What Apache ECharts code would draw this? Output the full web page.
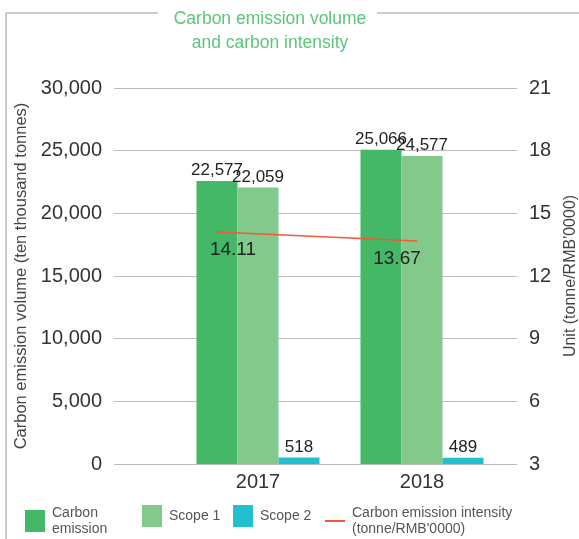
<!DOCTYPE html>
<html>
<head>
<meta charset="utf-8">
<script src="https://cdn.jsdelivr.net/npm/echarts@6/dist/echarts.min.js"></script>
<style>
  html, body { margin: 0; padding: 0; background: #fff; }
  #chart { width: 579px; height: 539px; }
</style>
</head>
<body>
<div id="chart"></div>
<script>
const years = ['2017', '2018']
const carbonEmission = [22577, 25066]
const scope1 = [22059, 24577]
const scope2 = [518, 489]
const intensity = [14.11, 13.67]
const leftTicks = [0, 30000, 5000]
const rightTicks = [3, 21, 3]

const font = '"Liberation Sans", Arial, sans-serif'
const chart = echarts.init(document.getElementById('chart'))

const barLabel = {
  show: true,
  position: 'top',
  distance: 2,
  fontSize: 17,
  color: '#222',
  fontFamily: font,
  formatter: p => p.value.toLocaleString('en-US')
}
// nudges so the intensity labels sit where the original puts them
const lineLabelShift = [[16, 0], [-20, 0]]

const optionData = {
  title: {
    text: 'Carbon emission volume\nand carbon intensity',
    left: 265,
    textAlign: 'center',
    top: 2,
    textStyle: { color: '#5dc47c', fontSize: 17.5, fontWeight: 'normal', fontFamily: font, lineHeight: 24 }
  },
  graphic: [
    { type: 'line', shape: { x1: 6, y1: 13, x2: 158, y2: 13 }, style: { stroke: '#999', lineWidth: 1 } },
    { type: 'line', shape: { x1: 377, y1: 13, x2: 579, y2: 13 }, style: { stroke: '#999', lineWidth: 1 } },
    { type: 'line', shape: { x1: 6, y1: 13, x2: 6, y2: 539 }, style: { stroke: '#999', lineWidth: 1 } }
  ],
  legend: [
    { data: ['Carbon\nemission'], left: 20, top: 500 },
    { data: ['Scope 1'], left: 137, top: 500 },
    { data: ['Scope 2'], left: 228, top: 500 },
    { data: ['Carbon emission intensity\n(tonne/RMB\'0000)'], left: 320, top: 500, itemHeight: 2 }
  ].map(l => Object.assign({
    icon: 'rect',
    itemWidth: 20,
    itemHeight: 22,
    itemGap: 10,
    textStyle: { fontSize: 14, color: '#555', fontFamily: font, lineHeight: 16, padding: [0, 0, 0, 2] }
  }, l)),
  grid: [
    { left: 117, right: 62, top: 88, bottom: 75, outerBoundsMode: 'none' },
    { left: 176, right: 75, top: 88, bottom: 75, outerBoundsMode: 'none' }
  ],
  xAxis: [
    { type: 'category', gridIndex: 0, data: years, show: false },
    {
      type: 'category', gridIndex: 1, data: years,
      axisLine: { show: false }, axisTick: { show: false },
      axisLabel: { fontSize: 20, color: '#333', fontFamily: font, margin: 8 }
    }
  ],
  yAxis: [
    {
      type: 'value', gridIndex: 0, min: leftTicks[0], max: leftTicks[1], interval: leftTicks[2],
      name: 'Carbon emission volume (ten thousand tonnes)',
      nameLocation: 'middle', nameGap: 80,
      nameTextStyle: { fontSize: 16.5, color: '#444', fontFamily: font },
      axisLine: { show: false },
      axisTick: { show: true, length: 3, lineStyle: { color: '#bbb' } },
      axisLabel: { fontSize: 20, color: '#333', fontFamily: font, margin: 15, formatter: v => v.toLocaleString('en-US') },
      splitLine: { lineStyle: { color: '#bbb', width: 1 } }
    },
    {
      type: 'value', gridIndex: 0, position: 'right', min: rightTicks[0], max: rightTicks[1], interval: rightTicks[2],
      name: 'Unit (tonne/RMB\'0000)',
      nameLocation: 'middle', nameGap: 46, nameRotate: 90,
      nameTextStyle: { fontSize: 16, color: '#444', fontFamily: font },
      axisLine: { show: false }, axisTick: { show: false },
      axisLabel: { fontSize: 20, color: '#333', fontFamily: font, margin: 12 },
      splitLine: { show: false }
    },
    { type: 'value', gridIndex: 1, min: leftTicks[0], max: leftTicks[1], show: false, splitLine: { show: false } }
  ],
  series: [
    {
      name: 'Carbon\nemission', type: 'bar', xAxisIndex: 1, yAxisIndex: 2,
      data: carbonEmission, itemStyle: { color: '#44b867' },
      barGap: '0%', barCategoryGap: '25%', label: barLabel
    },
    {
      name: 'Scope 1', type: 'bar', xAxisIndex: 1, yAxisIndex: 2,
      data: scope1, itemStyle: { color: '#82c98b' }, label: barLabel
    },
    {
      name: 'Scope 2', type: 'bar', xAxisIndex: 1, yAxisIndex: 2,
      data: scope2, itemStyle: { color: '#22bfcf' }, label: barLabel
    },
    {
      name: 'Carbon emission intensity\n(tonne/RMB\'0000)', type: 'line', xAxisIndex: 0, yAxisIndex: 1,
      data: intensity.map((v, i) => ({ value: v, label: { offset: lineLabelShift[i] } })),
      symbol: 'circle', symbolSize: 1, showSymbol: true, z: 5,
      lineStyle: { color: '#ef5a3a', width: 1.5 },
      itemStyle: { color: '#ef5a3a' },
      label: {
        show: true, position: 'bottom', distance: 8,
        fontSize: 19, color: '#222', fontFamily: font,
        formatter: p => p.value.toFixed(2)
      }
    }
  ]
}
chart.setOption(optionData)
</script>
</body>
</html>
